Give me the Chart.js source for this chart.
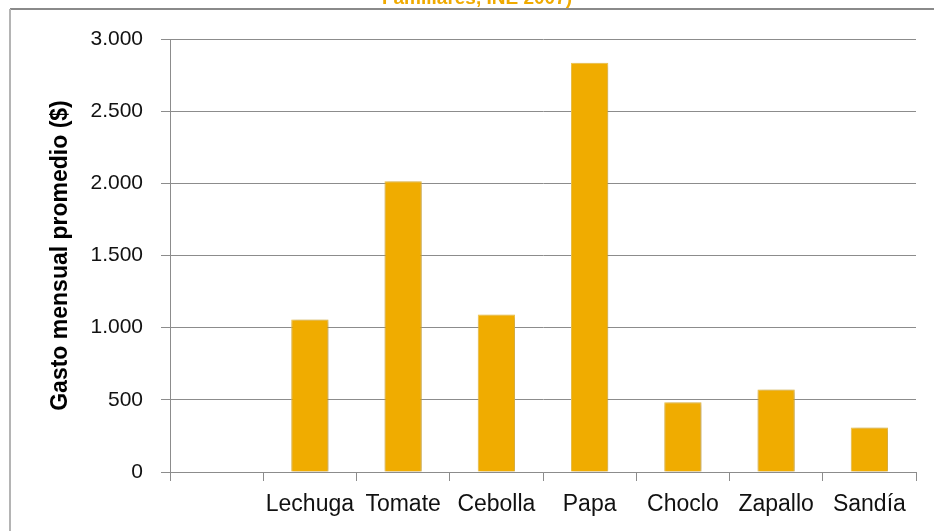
<!DOCTYPE html>
<html>
<head>
<meta charset="utf-8">
<script src="https://cdn.jsdelivr.net/npm/chart.js@4"></script>
<style>
    body { margin: 0; background: #fff; }
    #wrap { position: relative; width: 934px; height: 531px; overflow: hidden; }
    #topLine { position: absolute; left: 10px; right: 0; top: 8px; height: 2px; background: #8a8a8a; }
    #leftLine { position: absolute; left: 9px; top: 9px; bottom: 0; width: 2px; background: #b4b4b4; }
    #title { position: absolute; left: 0; width: 954px; top: -13px; text-align: center;
             font: bold 19px "Liberation Sans", sans-serif; color: #F0AA00; }
</style>
</head>
<body>
<div id="wrap">
    <div id="title">Familiares, INE 2007)</div>
    <div id="topLine"></div>
    <div id="leftLine"></div>
    <canvas id="chart" width="934" height="531"></canvas>
</div>
<script>
// Data
const categories = ['', 'Lechuga', 'Tomate', 'Cebolla', 'Papa', 'Choclo', 'Zapallo', 'Sandía'];
const gasto = [null, 1057, 2014, 1091, 2835, 484, 572, 309];
const yTicks = [0, 500, 1000, 1500, 2000, 2500, 3000];

const axisGrey = '#8c8c8c';

// Soft shadow behind the bars
const barShadow = {
    id: 'barShadow',
    beforeDatasetsDraw(chart) {
        const ctx = chart.ctx;
        ctx.save();
        ctx.shadowColor = 'rgba(0, 0, 0, 0.28)';
        ctx.shadowBlur = 5;
        ctx.shadowOffsetX = 1;
        ctx.shadowOffsetY = 1;
    },
    afterDatasetsDraw(chart) {
        chart.ctx.restore();
    }
};

function formatThousands(v) {
    return String(v).replace(/\B(?=(\d{3})+(?!\d))/g, '.');
}

new Chart(document.getElementById('chart'), {
    type: 'bar',
    data: {
        labels: categories,
        datasets: [{
            label: 'Gasto mensual promedio',
            data: gasto,
            backgroundColor: '#F0AC00',
            borderColor: '#F6C94E',
            borderWidth: 1,
            categoryPercentage: 1,
            barPercentage: 0.4
        }]
    },
    options: {
        responsive: false,
        animation: false,
        layout: { padding: { left: 47, right: 18, top: 39, bottom: 0 } },
        plugins: {
            legend: { display: false },
            tooltip: { enabled: false }
        },
        scales: {
            x: {
                grid: {
                    drawOnChartArea: false,
                    drawTicks: true,
                    tickLength: 9,
                    color: axisGrey
                },
                border: { color: axisGrey, width: 1 },
                ticks: {
                    color: '#111',
                    font: { family: 'Liberation Sans', size: 23 },
                    padding: 10,
                    maxRotation: 0,
                    autoSkip: false
                },
                afterFit(scale) { scale.height = 59; }
            },
            y: {
                min: 0,
                max: 3000,
                afterBuildTicks(scale) {
                    scale.ticks = yTicks.map(v => ({ value: v }));
                },
                grid: {
                    color: axisGrey,
                    tickLength: 9
                },
                border: { color: axisGrey, width: 1 },
                ticks: {
                    color: '#111',
                    font: { family: 'Liberation Sans', size: 21 },
                    padding: 18,
                    callback: v => formatThousands(v)
                },
                title: {
                    display: true,
                    text: 'Gasto mensual promedio ($)',
                    color: '#000',
                    font: { family: 'Liberation Sans', size: 23, weight: 'bold' },
                    padding: { top: 0, bottom: 0 }
                },
                afterFit(scale) { scale.width = 123; }
            }
        }
    },
    plugins: [barShadow]
});
</script>
</body>
</html>
